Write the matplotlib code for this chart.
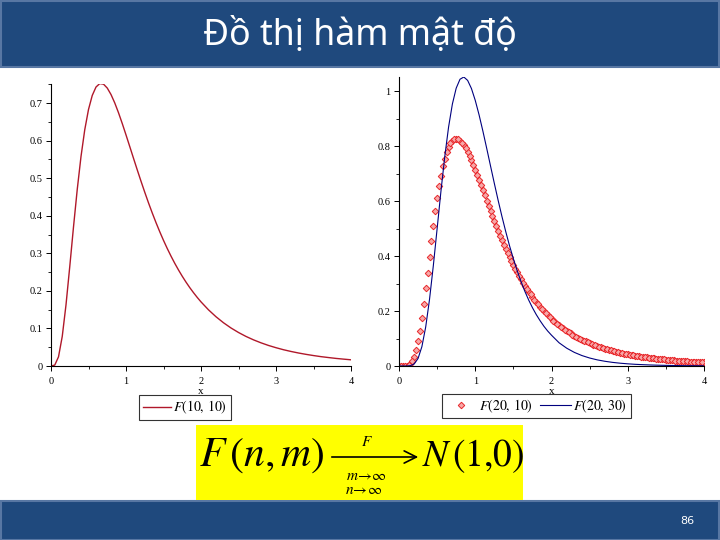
import matplotlib
matplotlib.use("Agg")
import matplotlib.pyplot as plt
from matplotlib.patches import Rectangle
from matplotlib.ticker import MultipleLocator

plt.rcParams['mathtext.fontset'] = 'stix'

# ---------------- data ----------------
x_line = [0.00, 0.05, 0.10, 0.15, 0.20, 0.25, 0.30, 0.35, 0.40, 0.45,
          0.50, 0.55, 0.60, 0.65, 0.70, 0.75, 0.80, 0.85, 0.90, 0.95,
          1.00, 1.05, 1.10, 1.15, 1.20, 1.25, 1.30, 1.35, 1.40, 1.45,
          1.50, 1.55, 1.60, 1.65, 1.70, 1.75, 1.80, 1.85, 1.90, 1.95,
          2.00, 2.1, 2.2, 2.3, 2.4, 2.5, 2.6, 2.7, 2.8, 2.9,
          3.0, 3.1, 3.2, 3.3, 3.4, 3.5, 3.6, 3.7, 3.8, 3.9, 4.0]

f_10_10 = [0.0, 0.0024, 0.0243, 0.0788, 0.1628, 0.2643, 0.3702, 0.4702, 0.5576, 0.6288,
           0.6828, 0.7202, 0.7426, 0.7518, 0.7503, 0.7399, 0.7227, 0.7003, 0.6742, 0.6455,
           0.6152, 0.5842, 0.5530, 0.5221, 0.4919, 0.4626, 0.4343, 0.4074, 0.3817, 0.3574,
           0.3344, 0.3128, 0.2925, 0.2734, 0.2556, 0.2389, 0.2233, 0.2087, 0.1952, 0.1825,
           0.1707, 0.1495, 0.1311, 0.1151, 0.1012, 0.0892, 0.0787, 0.0696, 0.0617, 0.0547,
           0.0487, 0.0433, 0.0387, 0.0346, 0.0310, 0.0278, 0.0249, 0.0225, 0.0202, 0.0183, 0.0165]

f_20_30 = [0.0, 0.0000, 0.0001, 0.0012, 0.0076, 0.0275, 0.0702, 0.1417, 0.2419, 0.3647,
           0.4999, 0.6359, 0.7617, 0.8694, 0.9534, 1.0112, 1.0437, 1.0519, 1.0396, 1.0100,
           0.9668, 0.9143, 0.8552, 0.7925, 0.7285, 0.6650, 0.6032, 0.5444, 0.4891, 0.4372,
           0.3902, 0.3468, 0.3076, 0.2722, 0.2405, 0.2123, 0.1872, 0.1650, 0.1448, 0.1273,
           0.1121, 0.0844, 0.0647, 0.0495, 0.0379, 0.0291, 0.0223, 0.0172, 0.0132, 0.0102,
           0.0079, 0.0061, 0.0048, 0.0037, 0.0029, 0.0023, 0.0018, 0.0014, 0.0011, 0.0009, 0.0007]

# F(20,10) point plot, first on the 0.05 grid ...
x_pts_a = [0.00, 0.05, 0.10, 0.15, 0.20, 0.25, 0.30, 0.35, 0.40, 0.45,
           0.50, 0.55, 0.60, 0.65, 0.70, 0.75, 0.80, 0.85, 0.90, 0.95,
           1.00, 1.05, 1.10, 1.15, 1.20, 1.25, 1.30, 1.35, 1.40, 1.45,
           1.50, 1.55, 1.60, 1.65, 1.70, 1.75, 1.80, 1.85, 1.90, 1.95,
           2.00, 2.05, 2.10, 2.15, 2.20, 2.25, 2.30, 2.35, 2.40, 2.45,
           2.50, 2.55, 2.60, 2.65, 2.70, 2.75, 2.80, 2.85, 2.90, 2.95,
           3.00, 3.05, 3.10, 3.15, 3.20, 3.25, 3.30, 3.35, 3.40, 3.45,
           3.50, 3.55, 3.60, 3.65, 3.70, 3.75, 3.80, 3.85, 3.90, 3.95, 4.00]

f_20_10_a = [0.0, 0.0000, 0.0007, 0.0077, 0.0337, 0.0893, 0.1750, 0.2822, 0.3983, 0.5109,
             0.6109, 0.6930, 0.7546, 0.7963, 0.8193, 0.8264, 0.8203, 0.8036, 0.7790, 0.7487,
             0.7144, 0.6777, 0.6398, 0.6016, 0.5639, 0.5271, 0.4917, 0.4579, 0.4257, 0.3954,
             0.3670, 0.3404, 0.3156, 0.2925, 0.2710, 0.2511, 0.2327, 0.2157, 0.1999, 0.1854,
             0.1720, 0.1596, 0.1481, 0.1376, 0.1278, 0.1188, 0.1105, 0.1029, 0.0958, 0.0892,
             0.0832, 0.0776, 0.0724, 0.0676, 0.0631, 0.0590, 0.0552, 0.0517, 0.0484, 0.0453,
             0.0425, 0.0399, 0.0374, 0.0351, 0.0330, 0.0310, 0.0292, 0.0275, 0.0259, 0.0244,
             0.0230, 0.0217, 0.0204, 0.0193, 0.0182, 0.0172, 0.0163, 0.0154, 0.0146, 0.0138, 0.0131]

# ... and the points in between
x_pts_b = [0.025, 0.075, 0.125, 0.175, 0.225, 0.275, 0.325, 0.375, 0.425, 0.475,
           0.525, 0.575, 0.625, 0.675, 0.725, 0.775, 0.825, 0.875, 0.925, 0.975,
           1.025, 1.075, 1.125, 1.175, 1.225, 1.275, 1.325, 1.375, 1.425, 1.475,
           1.525, 1.575, 1.625, 1.675, 1.725, 1.775, 1.825, 1.875, 1.925, 1.975,
           2.025, 2.075, 2.125, 2.175, 2.225, 2.275, 2.325, 2.375, 2.425, 2.475,
           2.525, 2.575, 2.625, 2.675, 2.725, 2.775, 2.825, 2.875, 2.925, 2.975,
           3.025, 3.075, 3.125, 3.175, 3.225, 3.275, 3.325, 3.375, 3.425, 3.475,
           3.525, 3.575, 3.625, 3.675, 3.725, 3.775, 3.825, 3.875, 3.925, 3.975]

f_20_10_b = [0.0000, 0.0001, 0.0027, 0.0175, 0.0575, 0.1288, 0.2267, 0.3400, 0.4556, 0.5629,
             0.6544, 0.7263, 0.7779, 0.8099, 0.8247, 0.8249, 0.8131, 0.7922, 0.7644, 0.7318,
             0.6963, 0.6589, 0.6207, 0.5827, 0.5454, 0.5092, 0.4745, 0.4415, 0.4104, 0.3810,
             0.3534, 0.3277, 0.3038, 0.2815, 0.2609, 0.2417, 0.2240, 0.2077, 0.1925, 0.1785,
             0.1656, 0.1537, 0.1427, 0.1326, 0.1232, 0.1146, 0.1066, 0.0992, 0.0924, 0.0861,
             0.0803, 0.0749, 0.0699, 0.0653, 0.0611, 0.0571, 0.0534, 0.0500, 0.0468, 0.0439,
             0.0412, 0.0386, 0.0362, 0.0340, 0.0320, 0.0301, 0.0283, 0.0266, 0.0251, 0.0237,
             0.0223, 0.0210, 0.0198, 0.0187, 0.0177, 0.0167, 0.0158, 0.0150, 0.0142, 0.0134]

x_ticks = [0, 1, 2, 3, 4]
x_ticklabels = ['0', '1', '2', '3', '4']
left_yticks = [0, 0.1, 0.2, 0.3, 0.4, 0.5, 0.6, 0.7]
left_yticklabels = ['0', '0.1', '0.2', '0.3', '0.4', '0.5', '0.6', '0.7']
right_yticks = [0, 0.2, 0.4, 0.6, 0.8, 1.0]
right_yticklabels = ['0', '0.2', '0.4', '0.6', '0.8', '1']

title = 'Đồ thị hàm mật độ'
page_no = '86'

# ---------------- figure ----------------
fig = plt.figure(figsize=(7.2, 5.4), dpi=100)
fig.patch.set_facecolor('white')

bg = fig.add_axes([0, 0, 1, 1], zorder=0)
bg.set_xlim(0, 720)
bg.set_ylim(540, 0)
bg.axis('off')

bar_col = '#1F497D'
bg.add_patch(Rectangle((1, 1), 718, 66, facecolor=bar_col, edgecolor='#5877A3', lw=1.5))
bg.add_patch(Rectangle((1, 501), 718, 39, facecolor=bar_col, edgecolor='#5877A3', lw=1.5))
bg.text(360, 36, title, color='white', fontsize=25.7, ha='center', va='center',
        family=['Noto Sans', 'DejaVu Sans'])
bg.text(687, 521, page_no, color='white', fontsize=8, ha='center', va='center',
        family=['DejaVu Sans'])

# yellow formula box
bg.add_patch(Rectangle((196, 425), 327, 75, facecolor='#FFFF00', edgecolor='none'))
bg.text(199, 466, r'$F\,(n,m)$', fontsize=30, ha='left', va='baseline', color='black')
bg.text(422, 466, r'$N\,(1{,}0)$', fontsize=27, ha='left', va='baseline', color='black')
bg.annotate('', xy=(421, 457), xytext=(329, 457),
            arrowprops=dict(arrowstyle='->', lw=1.2, color='black', mutation_scale=22))
bg.text(367, 441, r'$F$', fontsize=11, ha='center', va='center')
bg.text(366, 475, r'$m\!\rightarrow\!\infty$', fontsize=11, ha='center', va='center')
bg.text(364, 489, r'$n\!\rightarrow\!\infty$', fontsize=11, ha='center', va='center')


def style_axes(ax, ymax, yticks, ylabels, yminor):
    for s in ('top', 'right'):
        ax.spines[s].set_visible(False)
    for s in ('left', 'bottom'):
        ax.spines[s].set_linewidth(0.8)
    ax.set_facecolor('none')
    ax.set_xlim(0, 4)
    ax.set_ylim(0, ymax)
    ax.set_xticks(x_ticks)
    ax.set_xticklabels(x_ticklabels)
    ax.set_yticks(yticks)
    ax.set_yticklabels(ylabels)
    ax.xaxis.set_minor_locator(MultipleLocator(0.5))
    ax.yaxis.set_minor_locator(MultipleLocator(yminor))
    ax.tick_params(which='major', length=3.5, width=0.7, labelsize=7.5)
    ax.tick_params(axis='x', which='major', pad=4.5)
    ax.tick_params(axis='y', which='major', pad=2.5)
    ax.tick_params(which='minor', length=2, width=0.6)
    for lab in ax.get_xticklabels() + ax.get_yticklabels():
        lab.set_family('Liberation Serif')
    ax.set_xlabel('x', fontsize=8, family='Liberation Serif', labelpad=1)


# left plot
axL = fig.add_axes([51 / 720, 1 - 366 / 540, 300 / 720, 282.5 / 540], zorder=2)
lineL, = axL.plot(x_line, f_10_10, color='#B0182A', lw=1.0, label=r'$F(10,\,10)$')
style_axes(axL, 0.752, left_yticks, left_yticklabels, 0.05)
legL = fig.legend(handles=[lineL], loc='center', bbox_to_anchor=(185 / 720, 1 - 407.5 / 540),
                  frameon=True, fancybox=False, edgecolor='black', fontsize=10,
                  handlelength=2.0, borderpad=0.25, handletextpad=0.2, borderaxespad=0)
legL.get_frame().set_linewidth(0.8)

# right plot
axR = fig.add_axes([399 / 720, 1 - 366 / 540, 305 / 720, 289.3 / 540], zorder=2)
mk = dict(linestyle='none', marker='D', ms=3.3, mfc='#F7A8A8', mec='#E8262A', mew=0.7)
ptsR, = axR.plot(x_pts_a, f_20_10_a, label=r'$F(20,\,10)$', **mk)
axR.plot(x_pts_b, f_20_10_b, **mk)
lineR, = axR.plot(x_line, f_20_30, color='#00007F', lw=0.8, label=r'$F(20,\,30)$')
style_axes(axR, 1.053, right_yticks, right_yticklabels, 0.1)
legR = fig.legend(handles=[ptsR, lineR], loc='center', ncol=2,
                  bbox_to_anchor=(536.5 / 720, 1 - 406 / 540),
                  frameon=True, fancybox=False, edgecolor='black', fontsize=10,
                  handlelength=2.2, borderpad=0.25, handletextpad=0.2, columnspacing=0.5,
                  borderaxespad=0)
legR.get_frame().set_linewidth(0.8)

fig.savefig('out.png', dpi=100)
